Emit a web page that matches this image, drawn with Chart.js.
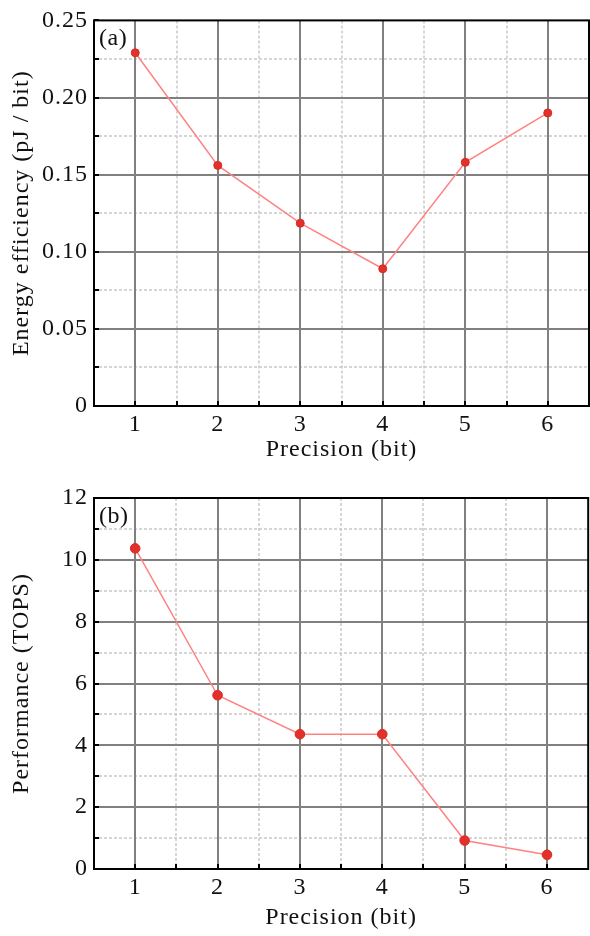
<!DOCTYPE html>
<html><head><meta charset="utf-8">
<script src="https://cdn.jsdelivr.net/npm/chart.js@4.4.1/dist/chart.umd.min.js"></script>
<style>
html,body{margin:0;padding:0;background:#fff;overflow:hidden;width:590px;height:936px;}
.wrap{position:absolute;left:0;width:594px;height:468px;}
canvas{display:block;}
</style></head><body>
<div class="wrap" style="top:0"><canvas id="c1" width="594" height="468"></canvas></div>
<div class="wrap" style="top:468px"><canvas id="c2" width="594" height="468"></canvas></div>
<script>
// ---- data ----
const precisionBits = [1, 2, 3, 4, 5, 6];
const energyEfficiency = [0.229, 0.156, 0.1185, 0.089, 0.158, 0.190];
const performanceTops = [10.37, 5.62, 4.36, 4.36, 0.92, 0.46];

const xMajorTicks = [1, 2, 3, 4, 5, 6];
const xTickLabels = ['1', '2', '3', '4', '5', '6'];
const energyMajorTicks = [0, 0.05, 0.10, 0.15, 0.20, 0.25];
const energyTickLabels = ['0', '0.05', '0.10', '0.15', '0.20', '0.25'];
const perfMajorTicks = [0, 2, 4, 6, 8, 10, 12];
const perfTickLabels = ['0', '2', '4', '6', '8', '10', '12'];

const FONT = "'Liberation Serif', 'Times New Roman', serif";

function withMinors(majors) {
  const out = [];
  for (let i = 0; i < majors.length; i++) {
    out.push(majors[i]);
    if (i < majors.length - 1) out.push((majors[i] + majors[i + 1]) / 2);
  }
  return out;
}
function majorIndex(v, majors) {
  for (let i = 0; i < majors.length; i++) if (Math.abs(v - majors[i]) < 1e-9) return i;
  return -1;
}

const frameGridPlugin = {
  id: 'frameGrid',
  beforeLayout(chart) { chart.ctx.letterSpacing = '1px'; },
  beforeDraw(chart) { chart.ctx.letterSpacing = '1px'; },
  beforeDatasetsDraw(chart, args, opts) {
    const { ctx, chartArea: a, scales: { x, y } } = chart;
    ctx.save();
    const pass = (major) => {
      ctx.lineWidth = major ? 2 : 1.5;
      ctx.strokeStyle = major ? '#82807e' : '#c9c9c9';
      ctx.setLineDash(major ? [] : [3, 2]);
      x.ticks.forEach(t => {
        if ((majorIndex(t.value, opts.xMajors) >= 0) !== major) return;
        const px = Math.round(x.getPixelForValue(t.value));
        if (px <= a.left + 1 || px >= a.right - 1) return;
        ctx.beginPath(); ctx.moveTo(px, a.top); ctx.lineTo(px, a.bottom); ctx.stroke();
      });
      y.ticks.forEach(t => {
        if ((majorIndex(t.value, opts.yMajors) >= 0) !== major) return;
        const py = Math.round(y.getPixelForValue(t.value));
        if (py <= a.top + 1 || py >= a.bottom - 1) return;
        ctx.beginPath(); ctx.moveTo(a.left, py); ctx.lineTo(a.right, py); ctx.stroke();
      });
    };
    pass(false);
    pass(true);
    ctx.restore();
  },
  afterDatasetsDraw(chart, args, opts) {
    const { ctx, chartArea: a, scales: { x, y } } = chart;
    ctx.save();
    ctx.setLineDash([]);
    ctx.strokeStyle = '#000';
    ctx.lineWidth = 2;
    ctx.strokeRect(a.left, a.top, a.right - a.left, a.bottom - a.top);
    x.ticks.forEach(t => {
      const px = Math.round(x.getPixelForValue(t.value));
      ctx.beginPath(); ctx.moveTo(px, a.bottom); ctx.lineTo(px, a.bottom - 5); ctx.stroke();
    });
    y.ticks.forEach(t => {
      const py = Math.round(y.getPixelForValue(t.value));
      ctx.beginPath(); ctx.moveTo(a.left, py); ctx.lineTo(a.left + 5, py); ctx.stroke();
    });
    ctx.fillStyle = '#111';
    ctx.font = '24px ' + FONT;
    ctx.letterSpacing = '0.5px';
    ctx.textAlign = 'left';
    ctx.textBaseline = 'alphabetic';
    ctx.fillText(opts.panel, a.left + 5, a.top + 25);
    ctx.restore();
  }
};

function makeChart(id, values, yMajors, yLabels, yTitle, panel, padTop, xHeight, radius) {
  const xTicks = withMinors(xMajorTicks);
  const yTicks = withMinors(yMajors);
  return new Chart(document.getElementById(id), {
    type: 'line',
    data: {
      datasets: [{
        data: precisionBits.map((b, i) => ({ x: b, y: values[i] })),
        borderColor: '#ff8282',
        borderWidth: 1.5,
        pointBackgroundColor: '#e3302b',
        pointBorderColor: '#d62a22',
        pointBorderWidth: 1,
        pointRadius: radius,
        tension: 0,
        clip: false
      }]
    },
    options: {
      responsive: false,
      animation: false,
      devicePixelRatio: 1,
      layout: { padding: { top: padTop, left: 0, right: 0, bottom: 0 } },
      plugins: {
        legend: { display: false },
        tooltip: { enabled: false },
        frameGrid: { panel: panel, xMajors: xMajorTicks, yMajors: yMajors }
      },
      scales: {
        x: {
          type: 'linear', min: 0.5, max: 6.5,
          afterBuildTicks: s => { s.ticks = xTicks.map(v => ({ value: v })); },
          afterFit: s => { s.height = xHeight; },
          grid: { display: false, drawTicks: false },
          border: { display: false },
          ticks: {
            autoSkip: false, maxRotation: 0, padding: 4, color: '#111',
            font: { family: FONT, size: 24 },
            callback: v => { const i = majorIndex(v, xMajorTicks); return i >= 0 ? xTickLabels[i] : ''; }
          },
          title: {
            display: true, text: 'Precision (bit)', color: '#111',
            font: { family: FONT, size: 24 }, padding: { top: 0, bottom: 4 }
          }
        },
        y: {
          type: 'linear', min: yMajors[0], max: yMajors[yMajors.length - 1],
          afterBuildTicks: s => { s.ticks = yTicks.map(v => ({ value: v })); },
          afterFit: s => { s.width = 94; },
          grid: { display: false, drawTicks: false },
          border: { display: false },
          ticks: {
            autoSkip: false, padding: 6, color: '#111',
            font: { family: FONT, size: 24 },
            callback: v => { const i = majorIndex(v, yMajors); return i >= 0 ? yLabels[i] : ''; }
          },
          title: {
            display: true, text: yTitle, color: '#111',
            font: { family: FONT, size: 24 }, padding: { top: 7, bottom: 0 }
          }
        }
      }
    },
    plugins: [frameGridPlugin]
  });
}

makeChart('c1', energyEfficiency, energyMajorTicks, energyTickLabels,
  'Energy efficiency (pJ / bit)', '(a)', 18, 62, 4);
makeChart('c2', performanceTops, perfMajorTicks, perfTickLabels,
  'Performance (TOPS)', '(b)', 30, 67, 4.8);
</script>
</body></html>
